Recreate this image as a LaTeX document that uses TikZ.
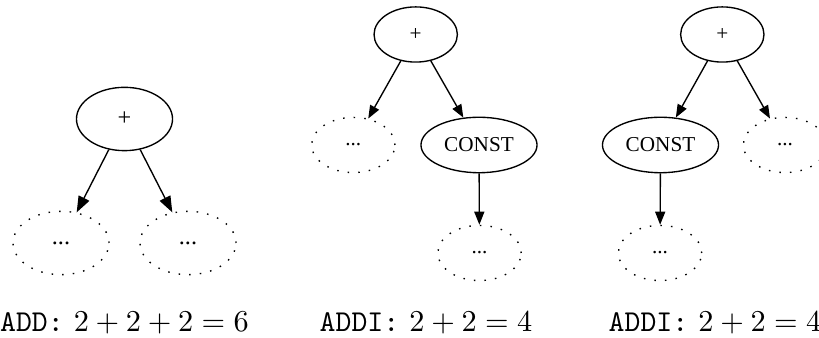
\documentclass[tikz,border=0pt]{standalone}
\usepackage{fontspec}
\newfontfamily\gvfont{Liberation Serif}
\usetikzlibrary{shapes.geometric,arrows.meta}

\begin{document}
\begin{tikzpicture}[
        x = 0.33pt, y = -0.33pt, % one unit per pixel, y grows downwards
        ->, % Arrow style
        > = {Triangle[length=4.3pt,width=3.3pt]}, % arrow head style
        line width = 0.45pt % line style
      ]

      \tikzstyle{op}=[ellipse,draw,inner sep=0pt,font=\gvfont\fontsize{7}{8}\selectfont]
      \tikzstyle{hole}=[op,dash pattern=on 0.5pt off 3pt]
      \tikzstyle{wide}=[minimum width=31.7pt,minimum height=20.9pt,font=\gvfont\fontsize{8}{9}\selectfont]
      \tikzstyle{slim}=[minimum width=27.5pt,minimum height=18.2pt]
      \tikzstyle{const}=[minimum width=38.3pt,minimum height=18.3pt]
      \tikzstyle{bigtip}=[-{Triangle[length=5.3pt,width=3.9pt]}]

      \useasboundingbox (0,0) rectangle (819,338);

      % ADD
      \node[op,wide] (addRoot) at (124.5,119) {+};
      \node[hole,wide] (addL) at (61,243) {...};
      \node[hole,wide] (addR) at (188,243) {...};
      \node (addLbl) at (124.5,332) [anchor=base] {\texttt{ADD:} $2+2+2=6$};

      \draw[bigtip] (addRoot) -- (addL);
      \draw[bigtip] (addRoot) -- (addR);

      % ADDI, constant on the right
      \node[op,slim] (riRoot) at (415.7,34.5) {+};
      \node[hole,slim] (riL) at (353.3,145) {...};
      \node[op,const] (riC) at (479,145) {CONST};
      \node[hole,slim] (riSub) at (479.5,253) {...};
      \node (riLbl) at (426,332) [anchor=base] {\texttt{ADDI:} $2+2=4$};

      \draw (riRoot) -- (riL);
      \draw (riRoot) -- (riC);
      \draw (riC) -- (riSub);

      % ADDI, constant on the left
      \node[op,slim] (leRoot) at (722.3,34.5) {+};
      \node[op,const] (leC) at (660.5,145) {CONST};
      \node[hole,slim] (leR) at (785,145) {...};
      \node[hole,slim] (leSub) at (660,253) {...};
      \node (leLbl) at (715,332) [anchor=base] {\texttt{ADDI:} $2+2=4$};

      \draw (leRoot) -- (leC);
      \draw (leRoot) -- (leR);
      \draw (leC) -- (leSub);

    \end{tikzpicture}
\end{document}
